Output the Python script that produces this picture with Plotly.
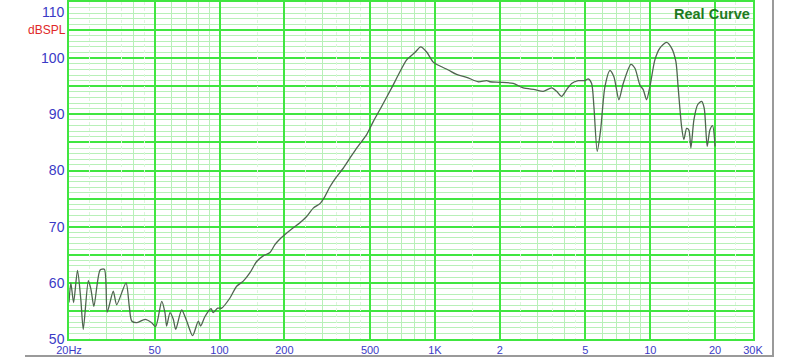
import numpy as np
import plotly.graph_objects as go

# ---- data (frequency in Hz, level in dB SPL) ----
freq_hz = [
    20.0, 20.4, 21.0, 21.9, 22.7, 23.3, 24.6, 25.3, 26.1, 27.9, 29.2, 30.1,
    32.1, 33.3, 36.8, 38.1, 39.1, 41.2, 45.1, 48.4, 50.5, 53.9, 55.8, 56.8,
    58.9, 61.0, 62.6, 66.7, 70.4, 75.0, 79.7, 81.7, 85.6, 91.3, 93.5, 98.0,
    102.3, 111.8, 120.1, 128.9, 138.5, 148.7, 159.6, 171.5, 180.8, 190.8,
    201.3, 220.0, 236.3, 253.8, 272.4, 292.6, 308.8, 325.6, 349.8, 375.4,
    403.2, 433.2, 482.2, 517.2, 565.8, 629.8, 676, 739.4, 807.8, 858.8,
    915.6, 982.6, 1055.6, 1153.6, 1261.6, 1404.4, 1589.4, 1739, 1801, 2004,
    2310, 2572, 2914, 3184, 3482, 3676, 3878, 4090, 4314, 4628, 4972, 5152,
    5342, 5474, 5672, 5882, 6158, 6496, 6780, 7152, 7490, 8132, 8488, 8954,
    9276, 9616, 9962, 10508, 11084, 11908, 12564, 13154, 13482, 13982, 14330,
    14750, 15118, 15446, 15948, 16592, 17316, 17804, 18382, 18922, 19474, 20000,
]
spl_db = [
    56.5, 60.0, 56.5, 62.2, 57.0, 51.7, 60.4, 58.8, 55.8, 62.3, 62.4, 54.8,
    58.5, 56.1, 60.0, 55.8, 53.2, 52.9, 53.5, 52.9, 52.2, 56.7, 54.7, 52.3,
    54.7, 53.5, 51.7, 55.2, 53.2, 50.6, 53.2, 52.3, 54.0, 55.4, 54.7, 55.5,
    55.5, 57.3, 59.4, 60.3, 61.8, 63.8, 64.8, 65.4, 66.8, 67.8,
    68.6, 69.8, 70.7, 71.8, 73.3, 74.1, 75.4, 77.1, 78.9, 80.4,
    82.2, 84.0, 86.4, 88.7, 91.4, 94.7, 97.0, 99.7, 101.0, 102.0,
    101.1, 99.3, 98.6, 97.9, 97.1, 96.6, 95.8, 96.0, 95.8, 95.7,
    95.5, 94.7, 94.4, 94.1, 94.7, 94.1, 93.2, 94.4, 95.5, 96.0, 96.0, 96.3,
    95.5, 91.4, 83.4, 87.2, 94.9, 97.8, 96.7, 92.6, 95.5, 98.9, 98.2, 95.2,
    94.4, 92.6, 94.9, 99.7, 101.8, 102.8, 101.8, 99.4, 94.7, 87.8, 85.5,
    87.5, 87.2, 84.0, 89.0, 91.7, 92.3, 91.1, 84.3, 87.2, 88.0, 84.3,
]

x_major = [20, 50, 100, 200, 500, 1000, 2000, 5000, 10000, 20000, 30000]
x_labels = ["20Hz", "50", "100", "200", "500", "1K", "2", "5", "10", "20", "30K"]
x_minor = [30, 40, 60, 70, 80, 90, 300, 400, 600, 700, 800, 900,
           3000, 4000, 6000, 7000, 8000, 9000]
x_half = [25, 35, 45, 150, 250, 350, 450, 1500, 2500, 3500, 4500,
          15000, 25000]
y_grid = [50, 55, 60, 65, 70, 75, 80, 85, 90, 95, 100, 105, 110]
y_labels = ["50", "", "60", "", "70", "", "80", "", "90", "", "100", "", ""]

x_range = [np.log10(20), np.log10(30000)]
y_range = [50, 110]

MAJOR = "#40e640"
MINOR = "#b8f0b8"
HALF = "#ddf6dd"
BLUE = "#3a3ac6"

fig = go.Figure()
# helper (invisible) trace that carries the main labelled axis
fig.add_trace(go.Scatter(x=freq_hz, y=spl_db, mode="lines", opacity=0,
                         hoverinfo="skip", showlegend=False,
                         xaxis="x", yaxis="y"))
# the response curve, drawn on the overlay axis so it sits on top
fig.add_trace(go.Scatter(x=freq_hz, y=spl_db, mode="lines",
                         line=dict(color="#506450", width=1.3,
                                   shape="spline", smoothing=0.7),
                         showlegend=False, xaxis="x2", yaxis="y"))

fig.update_layout(
    width=800, height=359,
    margin=dict(l=69, r=47, t=2, b=20),
    paper_bgcolor="white", plot_bgcolor="white",
    font=dict(family="Liberation Sans, Arial, sans-serif"),
    xaxis=dict(
        type="log", range=x_range, tickmode="array",
        tickvals=x_major, ticktext=x_labels, ticks="",
        tickfont=dict(size=11, color=BLUE),
        showgrid=True, gridcolor=MAJOR, gridwidth=1.5,
        showline=True, linecolor=MAJOR, linewidth=1.5, mirror=True,
        zeroline=False, automargin=False,
        minor=dict(tickmode="array", tickvals=x_minor, showgrid=True,
                   gridcolor=MINOR, gridwidth=1, ticks=""),
    ),
    xaxis2=dict(
        type="log", range=x_range, overlaying="x", tickmode="array",
        tickvals=x_half, showticklabels=False, ticks="",
        showgrid=True, gridcolor=HALF, gridwidth=1, griddash="dot",
        showline=False, zeroline=False, automargin=False,
    ),
    yaxis=dict(
        range=y_range, tickmode="array", tickvals=y_grid, ticktext=y_labels,
        ticks="", tickfont=dict(size=14, color=BLUE),
        showgrid=True, gridcolor=MAJOR, gridwidth=1.5,
        showline=True, linecolor=MAJOR, linewidth=1.5, mirror=True,
        zeroline=False, automargin=False,
        minor=dict(dtick=1, showgrid=True, gridcolor=MINOR, gridwidth=1,
                   ticks=""),
    ),
    annotations=[
        dict(text="110", xref="paper", x=0, xanchor="right", xshift=-2,
             yref="y", y=110, yanchor="top", yshift=0, showarrow=False,
             font=dict(size=14, color=BLUE)),
        dict(text="dBSPL", xref="paper", x=0, xanchor="right", xshift=-1,
             yref="y", y=105, yanchor="middle", showarrow=False,
             font=dict(size=12, color="#e02828")),
        dict(text="<b>Real Curve</b>", xref="paper", x=1, xanchor="right",
             xshift=-1, yref="paper", y=1, yanchor="top", yshift=-2,
             showarrow=False, font=dict(size=14.5, color="#1f7a1f")),
    ],
    shapes=[
        dict(type="line", xref="paper", yref="paper",
             x0=(773 - 69) / 684, x1=(773 - 69) / 684,
             y0=(339 - 0) / 337, y1=(339 - 356) / 337,
             line=dict(color="#9a9a9a", width=2)),
        dict(type="line", xref="paper", yref="paper",
             x0=(25 - 69) / 684, x1=(774 - 69) / 684,
             y0=(339 - 356) / 337, y1=(339 - 356) / 337,
             line=dict(color="#9a9a9a", width=2)),
    ],
)

fig.write_html("out.html")
